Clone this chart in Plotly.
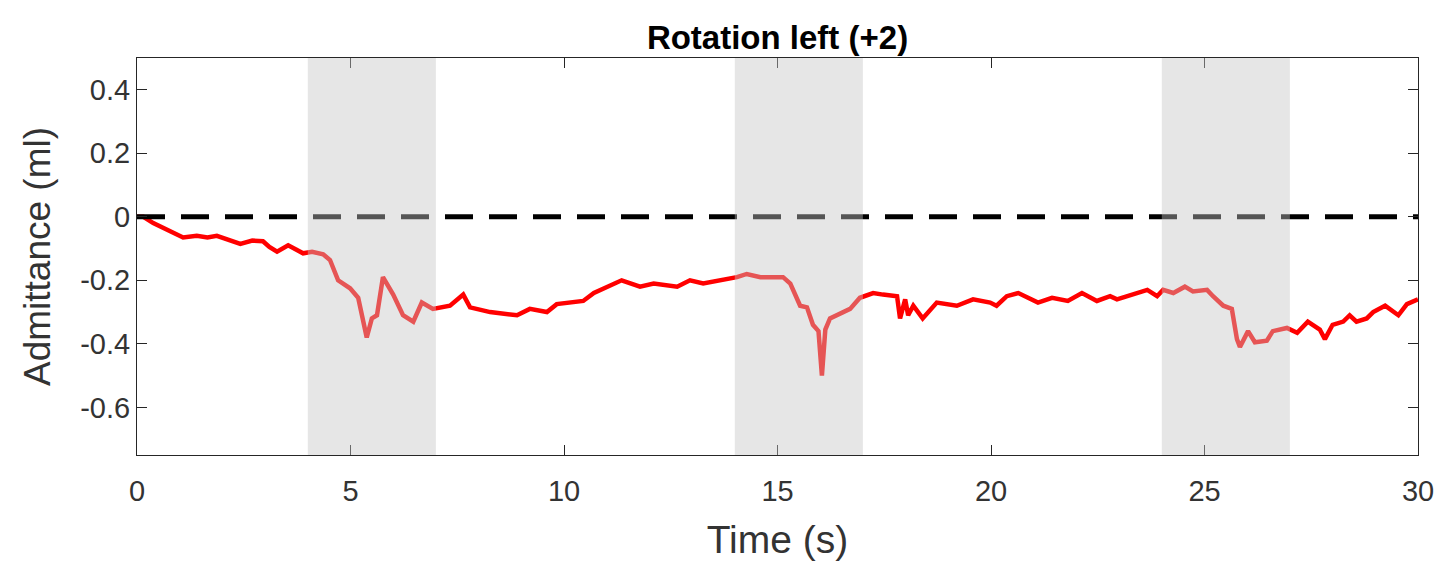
import plotly.graph_objects as go

# === Data ===

time_s = [0.0, 0.15, 0.38, 0.6, 0.85, 1.08, 1.4, 1.65, 1.87, 2.1, 2.42, 2.7, 2.95, 3.1, 3.28,
          3.54, 3.89, 4.1, 4.36, 4.52, 4.71, 4.99, 5.18, 5.38, 5.5, 5.62, 5.76, 6.0, 6.23,
          6.47, 6.67, 6.93, 7.33, 7.64, 7.8, 8.27, 8.9, 9.2, 9.6, 9.83, 10.2, 10.45, 10.7,
          11.0, 11.35, 11.78, 12.1, 12.65, 12.95, 13.26, 13.73, 14.05, 14.28, 14.6, 15.13,
          15.3, 15.53, 15.69, 15.83, 15.96, 16.04, 16.12, 16.23, 16.54, 16.7, 16.93, 17.24,
          17.47, 17.8, 17.87, 17.99, 18.06, 18.18, 18.4, 18.73, 19.2, 19.58, 19.98, 20.13,
          20.37, 20.64, 21.1, 21.43, 21.8, 22.13, 22.48, 22.79, 22.95, 23.33, 23.66, 23.89,
          24.03, 24.27, 24.54, 24.73, 25.06, 25.2, 25.44, 25.64, 25.76, 25.83, 25.95, 26.02,
          26.18, 26.46, 26.6, 26.93, 27.17, 27.42, 27.7, 27.82, 28.0, 28.25, 28.4, 28.56,
          28.8, 28.95, 29.23, 29.54, 29.74, 30.0]
admittance = [0.0, 0.0, -0.02, -0.035, -0.05, -0.065, -0.06, -0.065, -0.06, -0.07, -0.085, -0.075,
              -0.077, -0.095, -0.11, -0.09, -0.115, -0.11, -0.118, -0.136, -0.2, -0.225, -0.255,
              -0.38, -0.32, -0.31, -0.19, -0.245, -0.31, -0.33, -0.27, -0.29, -0.28, -0.245,
              -0.285, -0.3, -0.31, -0.29, -0.3, -0.275, -0.27, -0.265, -0.24, -0.22, -0.2,
              -0.22, -0.21, -0.22, -0.2, -0.21, -0.2, -0.19, -0.18, -0.19, -0.19, -0.21, -0.28,
              -0.285, -0.34, -0.36, -0.5, -0.355, -0.32, -0.3, -0.29, -0.255, -0.24, -0.245,
              -0.25, -0.32, -0.26, -0.31, -0.28, -0.32, -0.27, -0.28, -0.26, -0.27, -0.28,
              -0.25, -0.24, -0.27, -0.255, -0.265, -0.24, -0.265, -0.25, -0.26, -0.245, -0.23,
              -0.25, -0.23, -0.24, -0.22, -0.235, -0.23, -0.25, -0.28, -0.29, -0.385, -0.41,
              -0.375, -0.36, -0.395, -0.39, -0.36, -0.35, -0.365, -0.33, -0.355, -0.385, -0.34,
              -0.33, -0.31, -0.33, -0.32, -0.3, -0.28, -0.31, -0.275, -0.26]

# rotation intervals (s)
band_start = [4, 14, 24]
band_end = [7, 17, 27]

x_ticks = [0, 5, 10, 15, 20, 25, 30]
y_ticks = [-0.6, -0.4, -0.2, 0, 0.2, 0.4]
y_labels = ["-0.6", "-0.4", "-0.2", "0", "0.2", "0.4"]

FONT = "Liberation Sans, Arial, Helvetica"

# === Figure ===

fig = go.Figure()
fig.add_trace(go.Scatter(
    x=time_s, y=admittance, mode="lines",
    line=dict(color="#ff0000", width=4.5),
))
fig.add_trace(go.Scatter(
    x=[0, 30], y=[0, 0], mode="lines",
    line=dict(color="#000000", width=5, dash="28px,16px"),
))

for x0, x1 in zip(band_start, band_end):
    fig.add_shape(type="rect", xref="x", yref="paper", x0=x0, x1=x1, y0=0, y1=1,
                  fillcolor="rgba(198,198,198,0.43)", line_width=0, layer="above")

axis_common = dict(
    showgrid=False, zeroline=False, showline=True, linecolor="#262626", linewidth=1,
    mirror="ticks", ticks="inside", ticklen=10, tickcolor="#262626",
    tickfont=dict(family=FONT, size=29, color="#333333"),
)

fig.update_layout(
    width=1437, height=557,
    margin=dict(l=129, r=27, t=50, b=110),
    plot_bgcolor="#ffffff", paper_bgcolor="#ffffff",
    showlegend=False,
    title=dict(text="<b>Rotation left (+2)</b>", xref="paper", x=0.5, xanchor="center",
               yref="container", y=0.948, yanchor="middle",
               font=dict(family=FONT, size=33, color="#000000")),
    xaxis=dict(range=[0, 30], tickvals=x_ticks, ticklabelstandoff=10,
               title=dict(text="Time (s)", standoff=19,
                          font=dict(family=FONT, size=39, color="#333333")),
               **axis_common),
    yaxis=dict(range=[-0.75, 0.5], tickvals=y_ticks, ticktext=y_labels,
               title=dict(text="Admittance (ml)", standoff=18,
                          font=dict(family=FONT, size=37, color="#333333")),
               **axis_common),
)

fig.write_html("out.html")
